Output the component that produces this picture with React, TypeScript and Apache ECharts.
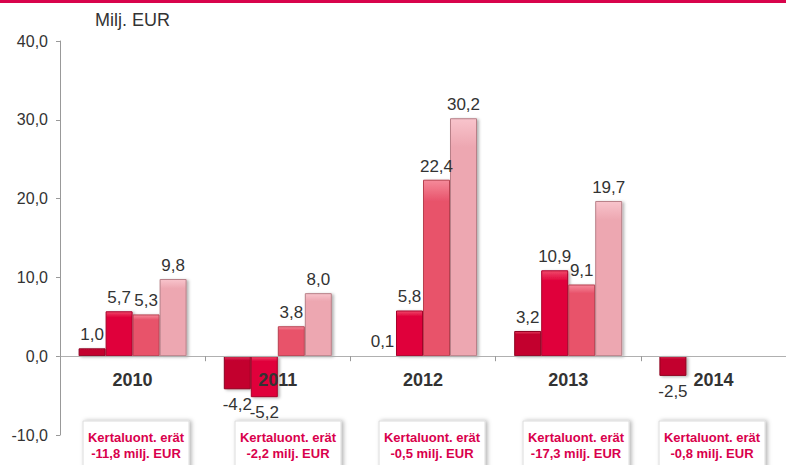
import React, { useEffect, useRef } from "react";
import * as echarts from "echarts";

const categories = ["2010", "2011", "2012", "2013", "2014"];
const seriesA = [1.0, -4.2, 0.1, 3.2, -2.5];
const seriesB = [5.7, -5.2, 5.8, 10.9, null];
const seriesC = [5.3, 3.8, 22.4, 9.1, null];
const seriesD = [9.8, 8.0, 30.2, 19.7, null];
const boxValues = ["-11,8", "-2,2", "-0,5", "-17,3", "-0,8"];
const boxLeft = [83, 235, 379, 523, 659];

const FONT = "'Liberation Sans', Arial, sans-serif";

const fmt = (v: number) => v.toFixed(1).replace(".", ",");

function grad(top: string, bottom: string) {
  return new echarts.graphic.LinearGradient(0, 0, 0, 1, [
    { offset: 0, color: top },
    { offset: 0.12, color: bottom },
    { offset: 1, color: bottom },
  ]);
}

function makeSeries(name: string, vals: (number | null)[], top: string, main: string, border: string) {
  return {
    name,
    type: "bar",
    barWidth: 27,
    barGap: "0%",
    z: 2,
    data: vals.map((v) =>
      v == null
        ? null
        : { value: v, label: { position: v < 0 ? "bottom" : "top", distance: v < 0 ? 7 : 5 } }
    ),
    itemStyle: {
      color: grad(top, main),
      borderColor: border,
      borderWidth: 1,
      shadowColor: "rgba(0,0,0,0.3)",
      shadowBlur: 3,
      shadowOffsetX: 2,
      shadowOffsetY: 1,
    },
    label: {
      show: true,
      distance: 5,
      color: "#333",
      fontSize: 17,
      fontFamily: FONT,
      formatter: (p: any) => fmt(p.value),
    },
  };
}

export default function App() {
  const ref = useRef<HTMLDivElement>(null);
  useEffect(() => {
    document.body.style.margin = "0";
    const chart = echarts.init(ref.current!, undefined, { renderer: "svg" });
    const graphics: any[] = [
      { type: "rect", left: 0, top: 0, shape: { width: 786, height: 3 }, style: { fill: "#d8044c" }, z: 10 },
      {
        type: "text",
        left: 95,
        top: 11,
        style: { text: "Milj. EUR", fontSize: 18, fontFamily: FONT, fill: "#333" },
      },
    ];
    boxValues.forEach((b, i) => {
      graphics.push({
        type: "rect",
        shape: { x: boxLeft[i], y: 421, width: 106, height: 60 },
        style: {
          fill: "#fff",
          stroke: "#dcdcdc",
          lineWidth: 1,
          shadowColor: "rgba(0,0,0,0.3)",
          shadowBlur: 4,
          shadowOffsetX: 2,
          shadowOffsetY: 0,
        },
        z: 5,
      });
      graphics.push({
        type: "text",
        x: boxLeft[i] + 53,
        y: 445,
        style: {
          text: "Kertaluont. erät\n" + b + " milj. EUR",
          fontSize: 13,
          fontWeight: "bold",
          fontFamily: FONT,
          fill: "#d9004c",
          align: "center",
          verticalAlign: "middle",
          lineHeight: 16,
        },
        z: 6,
      });
    });
    chart.setOption({
      animation: false,
      textStyle: { fontFamily: FONT },
      grid: { left: 60, top: 41, bottom: 30, width: 733, containLabel: false },
      xAxis: {
        type: "category",
        data: categories,
        z: 10,
        position: "bottom",
        offset: -78.8,
        axisLine: { onZero: false, lineStyle: { color: "#b0b0b0", width: 1 } },
        axisTick: { show: true, length: 5, lineStyle: { color: "#999" } },
        axisLabel: {
          color: "#333",
          fontSize: 18,
          fontWeight: "bold",
          fontFamily: FONT,
          margin: 15,
        },
        splitLine: { show: false },
      },
      yAxis: {
        type: "value",
        min: -10,
        max: 40,
        interval: 10,
        axisLine: { show: true, lineStyle: { color: "#999" } },
        axisTick: { show: true, length: 4, lineStyle: { color: "#999" } },
        axisLabel: {
          color: "#333",
          fontSize: 16,
          fontFamily: FONT,
          margin: 12,
          formatter: (v: number) => fmt(v),
        },
        splitLine: { show: false },
      },
      series: [
        makeSeries("A", seriesA, "#e23a5c", "#c3002f", "#8e0020"),
        makeSeries("B", seriesB, "#f04a6a", "#e0003a", "#a8002a"),
        makeSeries("C", seriesC, "#f58a9a", "#e8536b", "#b84050"),
        makeSeries("D", seriesD, "#f8c4cc", "#eda7b1", "#b88088"),
      ],
      graphic: graphics,
    });
    return () => chart.dispose();
  }, []);
  return <div ref={ref} style={{ width: 786, height: 465 }} />;
}
